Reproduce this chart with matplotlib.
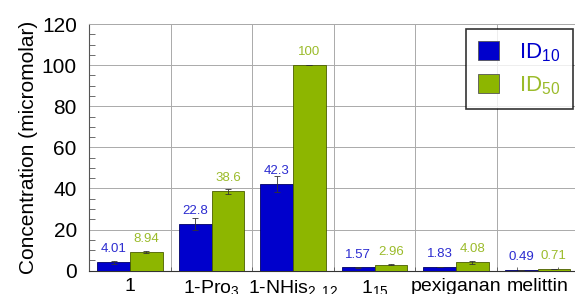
import matplotlib
matplotlib.use("Agg")
import matplotlib.pyplot as plt
import numpy as np

plt.rcParams['font.family'] = ['Liberation Sans', 'DejaVu Sans']
plt.rcParams['mathtext.fontset'] = 'custom'
plt.rcParams['mathtext.rm'] = 'Liberation Sans'
plt.rcParams['mathtext.it'] = 'Liberation Sans'

# data
peptides = ['1', r'1-Pro$_{3}$', r'1-NHis$_{2,12}$', r'1$_{15}$', 'pexiganan', 'melittin']
id10 = [4.01, 22.8, 42.3, 1.57, 1.83, 0.49]
id50 = [8.94, 38.6, 100, 2.96, 4.08, 0.71]
id10_err = [0.8, 3.0, 4.0, 0.2, 0.2, 0.05]
id50_err = [0.4, 1.2, 0.0, 0.3, 0.8, 0.05]

blue = '#0000cc'
green = '#8db600'
blue_txt = '#2b2bd0'
green_txt = '#9bbb2a'

fig = plt.figure(figsize=(5.75, 2.94), dpi=100)
ax = fig.add_axes([0.1553, 0.0793, 0.8504, 0.839])

x = np.arange(len(peptides))
w = 0.4
ekw = dict(ecolor='#333333', elinewidth=0.6, capsize=2, capthick=0.6)
ax.bar(x - w/2, id10, w, color=blue, edgecolor='#000066', linewidth=0.6,
       yerr=id10_err, error_kw=ekw, label=r'ID$_{10}$', zorder=3)
ax.bar(x + w/2, id50, w, color=green, edgecolor='#4a5e00', linewidth=0.6,
       yerr=id50_err, error_kw=ekw, label=r'ID$_{50}$', zorder=3)

# value labels above bars
for xi, v in zip(x - w/2, id10):
    ax.annotate('%g' % v, (xi, v), xytext=(0, 5), textcoords='offset points',
                ha='center', va='bottom', fontsize=9.5, color=blue_txt)
for xi, v in zip(x + w/2, id50):
    ax.annotate('%g' % v, (xi, v), xytext=(0, 5), textcoords='offset points',
                ha='center', va='bottom', fontsize=9.5, color=green_txt)

ax.set_xlim(-0.5, 5.5)
ax.set_ylim(0, 120)
ax.set_yticks(np.arange(0, 121, 20))
ax.set_yticks(np.arange(0, 121, 5), minor=True)
ax.set_xticks(x)
ax.set_xticklabels(peptides, fontsize=14)
ax.set_xticks(np.concatenate([x - 0.25, x + 0.25, x[:-1] + 0.5]), minor=True)
ax.tick_params(axis='y', labelsize=15, direction='in', length=0, pad=9)
ax.tick_params(axis='y', which='minor', direction='in', length=4, color='#555555')
ax.tick_params(axis='x', which='major', length=0, pad=5)
ax.tick_params(axis='x', which='minor', direction='in', length=3, color='#555555')

# grid: horizontal at majors, vertical at category boundaries
ax.grid(axis='y', which='major', color='#aaaaaa', linewidth=0.7, zorder=0)
for b in x[:-1] + 0.5:
    ax.axvline(b, color='#aaaaaa', linewidth=0.7, zorder=0)

for s in ['top', 'right']:
    ax.spines[s].set_color('#aaaaaa')
    ax.spines[s].set_linewidth(0.7)
ax.spines['left'].set_color('#555555')
ax.spines['bottom'].set_color('#333333')

ax.set_ylabel('Concentration (micromolar)', fontsize=15, labelpad=3)

leg = ax.legend(loc='upper right', bbox_to_anchor=(0.989, 0.98), borderaxespad=0,
                fontsize=16, frameon=True, fancybox=False, edgecolor='black',
                handlelength=0.95, handleheight=0.95, borderpad=0.55,
                labelspacing=0.45, handletextpad=0.9)
leg.get_frame().set_linewidth(1.2)
for h in leg.legend_handles:
    h.set_edgecolor('#555555')
leg.get_texts()[0].set_color(blue)
leg.get_texts()[1].set_color(green_txt)

fig.savefig('out.png', dpi=100)
